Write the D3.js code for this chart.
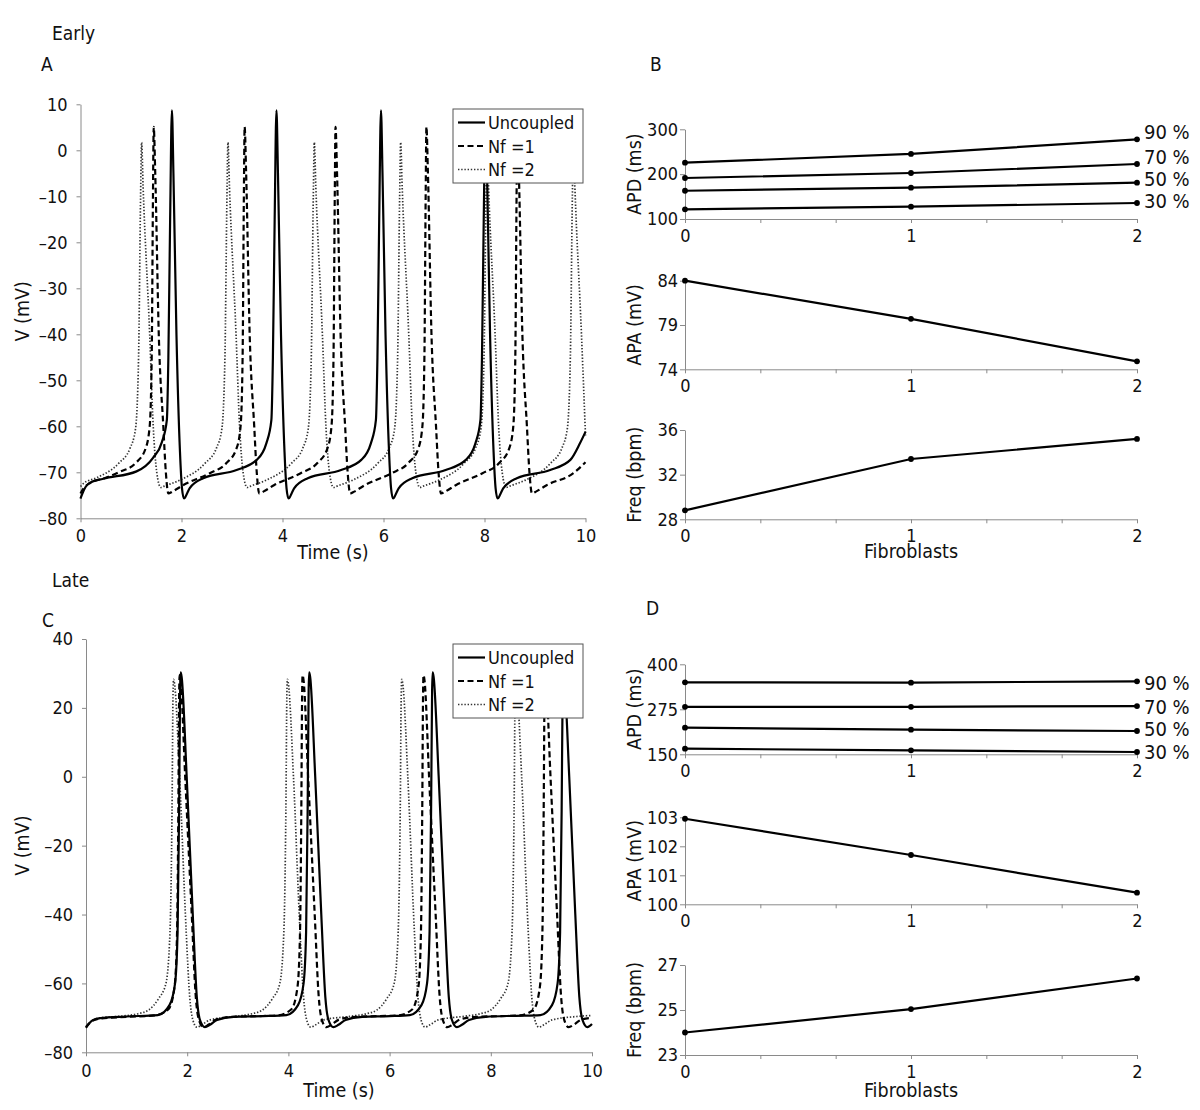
<!DOCTYPE html>
<html><head><meta charset="utf-8">
<script src="https://cdn.jsdelivr.net/npm/d3@7"></script>
<style>
body{margin:0;background:#fff;}
svg{display:block;font-family:"DejaVu Sans Condensed","DejaVu Sans",sans-serif;font-stretch:condensed;}
</style></head><body>
<svg id="chart" width="1200" height="1110"></svg>
<script>
// ---------------- DATA ----------------
const seriesNames = ["Uncoupled", "Nf =1", "Nf =2"];
const timeTicks = [0, 2, 4, 6, 8, 10];
const voltTicksEarly = [10, 0, -10, -20, -30, -40, -50, -60, -70, -80];
const voltTicksLate = [40, 20, 0, -20, -40, -60, -80];

// Early traces [time (s), V (mV)]
const earlyUncoupled = [[0,-75.7],[0.05,-74.3],[0.1,-73.2],[0.18,-72.3],[0.45,-71.4],[1.11,-69.8],[1.44,-66.8],[1.61,-63.5],[1.71,-58.6],[1.74,-45],[1.775,-15],[1.81,8.7],[1.84,-5],[1.9,-40],[1.97,-65.6],[2.01,-73.5],[2.05,-75.7],[2.11,-74.6],[2.16,-73.5],[2.43,-71.3],[3.09,-69.5],[3.49,-67.3],[3.68,-63.7],[3.78,-58.6],[3.81,-45],[3.845,-15],[3.88,8.7],[3.91,-5],[3.97,-40],[4.04,-65.6],[4.08,-73.5],[4.12,-75.7],[4.18,-74.6],[4.23,-73.5],[4.5,-71.3],[5.16,-69.5],[5.56,-67.3],[5.75,-63.7],[5.85,-58.6],[5.88,-45],[5.915,-15],[5.95,8.7],[5.98,-5],[6.04,-40],[6.11,-65.6],[6.15,-73.5],[6.19,-75.7],[6.25,-74.6],[6.3,-73.5],[6.57,-71.3],[7.23,-69.5],[7.63,-67.3],[7.82,-63.7],[7.92,-58.6],[7.95,-45],[7.985,-15],[8.02,8.7],[8.05,-5],[8.11,-40],[8.18,-65.6],[8.22,-73.5],[8.26,-75.7],[8.32,-74.6],[8.37,-73.5],[8.64,-71.3],[9.3,-69.5],[9.7,-67.3],[9.89,-63.7],[10,-61.2]];
const earlyNf1 = [[0,-74.6],[0.06,-73.5],[0.18,-72.4],[0.5,-71.2],[0.78,-69.9],[1.09,-68],[1.29,-64.8],[1.37,-60],[1.41,-45],[1.435,-10],[1.45,5.1],[1.48,-5],[1.55,-40],[1.64,-60],[1.69,-70],[1.74,-74.6],[1.82,-74.2],[2.03,-72.8],[2.56,-70.2],[2.89,-68],[3.09,-64.8],[3.17,-60],[3.21,-45],[3.235,-10],[3.25,5.1],[3.28,-5],[3.35,-40],[3.44,-60],[3.49,-70],[3.54,-74.6],[3.62,-74.2],[3.83,-72.8],[4.36,-70.2],[4.69,-68],[4.89,-64.8],[4.97,-60],[5.01,-45],[5.035,-10],[5.05,5.1],[5.08,-5],[5.15,-40],[5.24,-60],[5.29,-70],[5.34,-74.6],[5.42,-74.2],[5.63,-72.8],[6.16,-70.2],[6.49,-68],[6.69,-64.8],[6.77,-60],[6.81,-45],[6.835,-10],[6.85,5.1],[6.88,-5],[6.95,-40],[7.04,-60],[7.09,-70],[7.14,-74.6],[7.22,-74.2],[7.43,-72.8],[7.96,-70.2],[8.29,-68],[8.49,-64.8],[8.57,-60],[8.61,-45],[8.635,-10],[8.65,5.1],[8.68,-5],[8.75,-40],[8.84,-60],[8.89,-70],[8.94,-74.6],[9.02,-74.2],[9.23,-72.8],[9.76,-70.2],[10,-67.8]];
const earlyNf2 = [[0,-73.1],[0.06,-72.4],[0.32,-71.2],[0.76,-68],[0.98,-64.8],[1.09,-60.5],[1.15,-45],[1.19,-10],[1.21,1.7],[1.24,-8],[1.37,-40],[1.44,-60],[1.51,-70],[1.59,-73.3],[1.66,-73],[1.97,-71.7],[2.47,-68],[2.69,-64.8],[2.8,-60.5],[2.86,-45],[2.9,-10],[2.92,1.7],[2.95,-8],[3.08,-40],[3.15,-60],[3.22,-70],[3.3,-73.3],[3.37,-73],[3.68,-71.7],[4.18,-68],[4.4,-64.8],[4.51,-60.5],[4.57,-45],[4.61,-10],[4.63,1.7],[4.66,-8],[4.79,-40],[4.86,-60],[4.93,-70],[5.01,-73.3],[5.08,-73],[5.39,-71.7],[5.89,-68],[6.11,-64.8],[6.22,-60.5],[6.28,-45],[6.32,-10],[6.34,1.7],[6.37,-8],[6.5,-40],[6.57,-60],[6.64,-70],[6.72,-73.3],[6.79,-73],[7.1,-71.7],[7.6,-68],[7.82,-64.8],[7.93,-60.5],[7.99,-45],[8.03,-10],[8.05,1.7],[8.08,-8],[8.21,-40],[8.28,-60],[8.35,-70],[8.43,-73.3],[8.5,-73],[8.81,-71.7],[9.31,-68],[9.53,-64.8],[9.64,-60.5],[9.7,-45],[9.74,-10],[9.76,1.7],[9.79,-8],[9.92,-40],[10,-62]];

// Late traces [time (s), V (mV)]
const lateUncoupled = [[0,-72.7],[0.05,-71.8],[0.12,-70.8],[0.28,-70.1],[0.8,-69.6],[1.42,-69.2],[1.65,-66.3],[1.76,-60],[1.81,-45],[1.84,-10],[1.86,25],[1.87,30.3],[1.89,29],[1.99,0],[2.11,-40],[2.19,-64],[2.25,-70.5],[2.35,-72.7],[2.45,-72],[2.59,-70.6],[2.92,-69.7],[3.5,-69.5],[3.96,-69.2],[4.19,-66.3],[4.3,-60],[4.35,-45],[4.38,-10],[4.4,25],[4.41,30.3],[4.43,29],[4.53,0],[4.65,-40],[4.73,-64],[4.79,-70.5],[4.89,-72.7],[4.99,-72],[5.13,-70.6],[5.46,-69.7],[6,-69.5],[6.4,-69.2],[6.63,-66.3],[6.74,-60],[6.79,-45],[6.82,-10],[6.84,25],[6.85,30.3],[6.87,29],[6.97,0],[7.09,-40],[7.17,-64],[7.23,-70.5],[7.33,-72.7],[7.43,-72],[7.57,-70.6],[7.9,-69.7],[8.5,-69.4],[8.98,-69.2],[9.21,-66.3],[9.32,-60],[9.37,-45],[9.4,-10],[9.42,25],[9.43,30.3],[9.45,29],[9.55,0],[9.67,-40],[9.75,-64],[9.81,-70.5],[9.91,-72.7],[10,-71.8]];
const lateNf1 = [[0,-72.9],[0.05,-71.9],[0.12,-70.9],[0.28,-70.2],[0.8,-69.7],[1.35,-69.3],[1.63,-67.5],[1.75,-61],[1.8,-45],[1.825,-10],[1.842,25],[1.85,29.5],[1.87,28],[1.96,0],[2.09,-40],[2.17,-64],[2.23,-70.5],[2.32,-72.7],[2.42,-72],[2.57,-70.5],[2.9,-69.7],[3.4,-69.5],[3.78,-69.3],[4.06,-67.5],[4.18,-61],[4.23,-45],[4.255,-10],[4.272,25],[4.28,29.5],[4.3,28],[4.39,0],[4.52,-40],[4.6,-64],[4.66,-70.5],[4.75,-72.7],[4.85,-72],[5,-70.5],[5.33,-69.7],[5.8,-69.5],[6.17,-69.3],[6.45,-67.5],[6.57,-61],[6.62,-45],[6.645,-10],[6.662,25],[6.67,29.5],[6.69,28],[6.78,0],[6.91,-40],[6.99,-64],[7.05,-70.5],[7.14,-72.7],[7.24,-72],[7.39,-70.5],[7.72,-69.7],[8.2,-69.5],[8.57,-69.3],[8.85,-67.5],[8.97,-61],[9.02,-45],[9.045,-10],[9.062,25],[9.07,29.5],[9.09,28],[9.18,0],[9.31,-40],[9.39,-64],[9.45,-70.5],[9.54,-72.7],[9.64,-72],[9.79,-70.5],[10,-70]];
const lateNf2 = [[0,-72.6],[0.05,-71.7],[0.12,-70.8],[0.28,-70],[0.7,-69.5],[1.03,-68.8],[1.23,-67.8],[1.43,-64.5],[1.58,-60],[1.66,-45],[1.7,-10],[1.72,24],[1.73,28.3],[1.75,27],[1.85,0],[1.98,-45],[2.05,-64],[2.11,-70.5],[2.19,-72.7],[2.29,-72],[2.45,-70.6],[3,-69.5],[3.28,-68.8],[3.48,-67.8],[3.68,-64.5],[3.83,-60],[3.91,-45],[3.95,-10],[3.97,24],[3.98,28.3],[4,27],[4.1,0],[4.23,-45],[4.3,-64],[4.36,-70.5],[4.44,-72.7],[4.54,-72],[4.7,-70.6],[5.25,-69.5],[5.54,-68.8],[5.74,-67.8],[5.94,-64.5],[6.09,-60],[6.17,-45],[6.21,-10],[6.23,24],[6.24,28.3],[6.26,27],[6.36,0],[6.49,-45],[6.56,-64],[6.62,-70.5],[6.7,-72.7],[6.8,-72],[6.96,-70.6],[7.5,-69.5],[7.79,-68.8],[7.99,-67.8],[8.19,-64.5],[8.34,-60],[8.42,-45],[8.46,-10],[8.48,24],[8.49,28.3],[8.51,27],[8.61,0],[8.74,-45],[8.81,-64],[8.87,-70.5],[8.95,-72.7],[9.05,-72],[9.21,-70.6],[9.7,-69.6],[10,-69.3]];

// Summary metrics vs number of fibroblasts
const fibroblasts = [0, 1, 2];
const fibroTicks = [0, 1/3, 2/3, 1, 4/3, 5/3, 2];
const fibroLabels = [0, 1, 2];
const apdLabels = ["90 %", "70 %", "50 %", "30 %"];

const earlyAPD90 = [225.5, 245, 277.7];
const earlyAPD70 = [191.4, 202.6, 222.6];
const earlyAPD50 = [163, 169.8, 181];
const earlyAPD30 = [121.6, 127.4, 135.7];
const earlyAPA = [84, 79.7, 74.9];
const earlyFreq = [28.8, 33.4, 35.2];

const lateAPD90 = [350, 349, 352.8];
const lateAPD70 = [282, 282, 284];
const lateAPD50 = [224, 218.5, 214.7];
const lateAPD30 = [165.6, 161, 156.4];
const lateAPA = [102.95, 101.7, 100.4];
const lateFreq = [24.0, 25.04, 26.4];

const apdTicksEarly = [100, 200, 300];
const apaTicksEarly = [74, 79, 84];
const freqTicksEarly = [28, 32, 36];
const apdTicksLate = [150, 275, 400];
const apaTicksLate = [100, 101, 102, 103];
const freqTicksLate = [23, 25, 27];

// ---------------- DRAWING ----------------
const svg = d3.select("#chart");
const AXIS_COLOR = "#8a8a8a";
const fmt = d => d < 0 ? "\u2013" + Math.abs(d) : String(d);
const TICK_FS = 18;

function styleAxis(g, size) {
  g.attr("font-family", null).attr("font-size", null);
  g.select(".domain").attr("stroke", AXIS_COLOR).attr("stroke-width", 1);
  g.selectAll(".tick line").attr("stroke", AXIS_COLOR).attr("stroke-width", 1);
  g.selectAll(".tick text").attr("fill", "#111").style("font-size", size + "px");
}

function label(txt, x, y, size, anchor, rotate) {
  const t = svg.append("text").text(txt).attr("font-size", size).attr("fill", "#111")
    .attr("text-anchor", anchor || "start");
  if (rotate) {
    t.attr("transform", `translate(${x},${y}) rotate(-90)`).attr("dy", "0.35em");
  } else {
    t.attr("x", x).attr("y", y);
  }
  return t;
}

const styles = [
  {w: 2.2, dash: null, color: "#000"},
  {w: 2.2, dash: "6,3.5", color: "#000"},
  {w: 1.7, dash: "1.4,1.8", color: "#333"}
];

function tracePanel(cfg) {
  const x = d3.scaleLinear().domain([0, 10]).range([cfg.x0, cfg.x1]);
  const y = d3.scaleLinear().domain([-80, cfg.vmax]).range([cfg.yb, cfg.yt]);
  const gx = svg.append("g").attr("transform", `translate(0,${cfg.yb})`)
    .call(d3.axisBottom(x).tickValues(timeTicks).tickSize(4).tickSizeOuter(0).tickPadding(cfg.xpad));
  styleAxis(gx, TICK_FS);
  const gy = svg.append("g").attr("transform", `translate(${cfg.x0},0)`)
    .call(d3.axisLeft(y).tickValues(cfg.ticks).tickFormat(fmt).tickSize(4).tickSizeOuter(0).tickPadding(9));
  styleAxis(gy, TICK_FS);

  const line = d3.line().x(d => x(d[0])).y(d => y(d[1])).curve(d3.curveMonotoneX);
  [2, 1, 0].forEach(i => {
    const s = styles[i];
    svg.append("path").datum(cfg.series[i]).attr("d", line).attr("fill", "none")
      .attr("stroke", s.color).attr("stroke-width", s.w)
      .attr("stroke-dasharray", s.dash).attr("stroke-linejoin", "round");
  });

  // legend
  const lg = svg.append("g");
  lg.append("rect").attr("x", cfg.lx).attr("y", cfg.ly).attr("width", 130).attr("height", 74)
    .attr("fill", "#fff").attr("stroke", "#555").attr("stroke-width", 1);
  seriesNames.forEach((n, i) => {
    const yy = cfg.ly + 13.5 + i * 23.5;
    const s = styles[i];
    lg.append("line").attr("x1", cfg.lx + 5).attr("x2", cfg.lx + 32).attr("y1", yy).attr("y2", yy)
      .attr("stroke", s.color).attr("stroke-width", s.w).attr("stroke-dasharray", s.dash);
    lg.append("text").attr("x", cfg.lx + 35).attr("y", yy + 6.5).attr("font-size", 18).attr("fill", "#111").text(n);
  });

  label("V (mV)", 22, (cfg.yt + cfg.yb) / 2, 19.5, "middle", true);
  label("Time (s)", (cfg.x0 + cfg.x1) / 2, cfg.titleY, 19.5, "middle");
}

tracePanel({x0: 80.5, x1: 585.5, yt: 104.3, yb: 518.3, vmax: 10, ticks: voltTicksEarly,
  series: [earlyUncoupled, earlyNf1, earlyNf2], lx: 453, ly: 109, xpad: 7, titleY: 559});
tracePanel({x0: 86, x1: 592, yt: 639, yb: 1052.3, vmax: 40, ticks: voltTicksLate,
  series: [lateUncoupled, lateNf1, lateNf2], lx: 453, ly: 644, xpad: 8, titleY: 1097});

function metricPanel(cfg) {
  const x = d3.scaleLinear().domain([0, 2]).range([685, 1137]);
  const y = d3.scaleLinear().domain(cfg.domain).range([cfg.yb, cfg.yt]);
  const gx = svg.append("g").attr("transform", `translate(0,${cfg.yb})`)
    .call(d3.axisBottom(x).tickValues(fibroTicks).tickSize(4).tickSizeOuter(0).tickPadding(6)
      .tickFormat(d => fibroLabels.includes(Math.round(d * 1000) / 1000) ? String(d) : ""));
  styleAxis(gx, TICK_FS);
  const gy = svg.append("g").attr("transform", `translate(685,0)`)
    .call(d3.axisLeft(y).tickValues(cfg.ticks).tickFormat(d => String(d)).tickSize(5).tickSizeOuter(0).tickPadding(2));
  styleAxis(gy, TICK_FS);

  const line = d3.line().x((d, i) => x(fibroblasts[i])).y(d => y(d));
  cfg.series.forEach((s, k) => {
    svg.append("path").datum(s).attr("d", line).attr("fill", "none")
      .attr("stroke", "#000").attr("stroke-width", 2.2);
    svg.append("g").selectAll("circle").data(s).join("circle")
      .attr("cx", (d, i) => x(fibroblasts[i])).attr("cy", d => y(d)).attr("r", 2.9).attr("fill", "#000");
    if (cfg.labels) {
      label(cfg.labels[k], 1144, y(s[s.length - 1]) + cfg.nudge[k] + 7, 20, "start");
    }
  });
  label(cfg.title, 634, (cfg.yt + cfg.yb) / 2, 19.5, "middle", true);
  if (cfg.xtitleY) label("Fibroblasts", 911, cfg.xtitleY, 19.5, "middle");
}

// Panel B (early)
metricPanel({domain: [100, 300], yt: 129.3, yb: 219, ticks: apdTicksEarly, title: "APD (ms)",
  series: [earlyAPD90, earlyAPD70, earlyAPD50, earlyAPD30], labels: apdLabels, nudge: [-7, -7, -4, -2]});
metricPanel({domain: [74, 84], yt: 280.7, yb: 369.3, ticks: apaTicksEarly, title: "APA (mV)",
  series: [earlyAPA]});
metricPanel({domain: [28, 36], yt: 430, yb: 519.3, ticks: freqTicksEarly, title: "Freq (bpm)",
  series: [earlyFreq], xtitleY: 558});

// Panel D (late)
metricPanel({domain: [150, 400], yt: 664.3, yb: 754.3, ticks: apdTicksLate, title: "APD (ms)",
  series: [lateAPD90, lateAPD70, lateAPD50, lateAPD30], labels: apdLabels, nudge: [2, 1, -2, 0]});
metricPanel({domain: [100, 103], yt: 817.3, yb: 904.3, ticks: apaTicksLate, title: "APA (mV)",
  series: [lateAPA]});
metricPanel({domain: [23, 27], yt: 965, yb: 1055, ticks: freqTicksLate, title: "Freq (bpm)",
  series: [lateFreq], xtitleY: 1097});

// Headers and panel letters
label("Early", 52, 40, 19, "start");
label("A", 41, 71, 19, "start");
label("B", 650, 71, 19, "start");
label("Late", 52, 587, 19, "start");
label("C", 42, 627, 19, "start");
label("D", 646, 615, 19, "start");
</script>
</body></html>
